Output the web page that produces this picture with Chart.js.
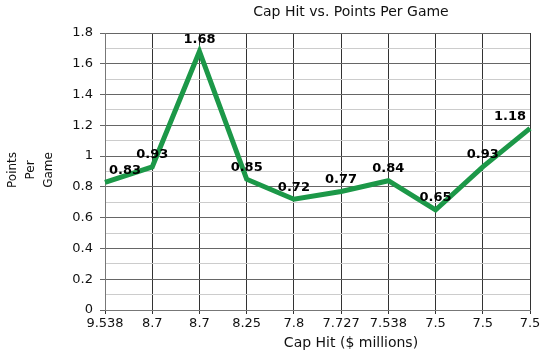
<!DOCTYPE html>
<html>
<head>
<meta charset="utf-8">
<title>Cap Hit vs. Points Per Game</title>
<script src="https://cdn.jsdelivr.net/npm/chart.js@4/dist/chart.umd.min.js"></script>
<style>
  html, body { margin: 0; padding: 0; background: #fff; }
  #wrap { width: 550px; height: 350px; }
</style>
</head>
<body>
<div id="wrap"><canvas id="capChart" width="550" height="350"></canvas></div>
<script>
// data
var capHits       = ['9.538', '8.7', '8.7', '8.25', '7.8', '7.727', '7.538', '7.5', '7.5', '7.5'];
var pointsPerGame = [0.83, 0.93, 1.68, 0.85, 0.72, 0.77, 0.84, 0.65, 0.93, 1.18];
var yMin  = 0;
var yMax  = 1.8;
var yStep = 0.1;   // labelled every 0.2, light line in between

var chartTitle = 'Cap Hit vs. Points Per Game';
var xTitle     = 'Cap Hit ($ millions)';
var yTitle     = ['Points', 'Per', 'Game'];

function isMajor(v) {
  return Math.round(v * 10) % 2 === 0;
}

// value labels above the points + titles
var textPlugin = {
  id: 'texts',
  afterDatasetsDraw: function (chart) {
    var ctx  = chart.ctx;
    var area = chart.chartArea;
    var meta = chart.getDatasetMeta(0);
    ctx.save();
    ctx.font = 'bold 13px "DejaVu Sans"';
    ctx.fillStyle = '#000';
    ctx.textAlign = 'center';
    ctx.textBaseline = 'middle';
    meta.data.forEach(function (pt, i) {
      var label = pointsPerGame[i].toFixed(2);
      var w = ctx.measureText(label).width;
      var x = Math.min(Math.max(pt.x, area.left + w / 2 + 4), area.right - w / 2 - 4);
      ctx.fillText(label, x, pt.y - 12);
    });
    ctx.restore();
  },
  afterDraw: function (chart) {
    var ctx = chart.ctx;
    ctx.save();
    ctx.fillStyle = '#111';
    ctx.textAlign = 'center';
    ctx.textBaseline = 'middle';
    ctx.font = '14px "DejaVu Sans"';
    ctx.fillText(chartTitle, 351, 12);
    ctx.fillText(xTitle, 351, 343);

    // y title, three rotated lines
    ctx.font = '12px "DejaVu Sans"';
    ctx.translate(31, 170);
    ctx.rotate(-Math.PI / 2);
    yTitle.forEach(function (line, i) {
      ctx.fillText(line, 0, (i - 1) * 18);
    });
    ctx.restore();
  }
};

var ctx = document.getElementById('capChart').getContext('2d');
var capChart = new Chart(ctx, {
  type: 'line',
  data: {
    labels: capHits,
    datasets: [{
      label: 'Points Per Game',
      data: pointsPerGame,
      borderColor: '#1c9848',
      backgroundColor: '#1c9848',
      borderWidth: 5,
      borderJoinStyle: 'miter',
      pointRadius: 0,
      pointHoverRadius: 0,
      tension: 0,
      fill: false
    }]
  },
  options: {
    responsive: false,
    animation: false,
    devicePixelRatio: 1,
    layout: {
      padding: { top: 33, right: 20, left: 0, bottom: 0 }
    },
    plugins: {
      legend: { display: false },
      title: { display: false },
      tooltip: { enabled: false }
    },
    scales: {
      x: {
        offset: false,
        afterFit: function (scale) { scale.height = 40; },
        grid: {
          color: '#333',
          lineWidth: 1,
          tickLength: 4,
          tickColor: '#333'
        },
        border: { color: '#777', width: 1 },
        ticks: {
          autoSkip: false,
          maxRotation: 0,
          padding: 2,
          color: '#111',
          font: { family: 'DejaVu Sans', size: 13 }
        }
      },
      y: {
        min: yMin,
        max: yMax,
        afterFit: function (scale) { scale.width = 105; },
        grid: {
          color: function (c) { return isMajor(c.tick.value) ? '#666' : '#ccc'; },
          tickColor: function (c) { return isMajor(c.tick.value) ? '#666' : 'rgba(0,0,0,0)'; },
          lineWidth: 1,
          tickLength: 5
        },
        border: { color: '#777', width: 1 },
        ticks: {
          stepSize: yStep,
          autoSkip: false,
          padding: 7,
          color: '#111',
          font: { family: 'DejaVu Sans', size: 13 },
          callback: function (v) {
            return isMajor(v) ? String(Math.round(v * 10) / 10) : '';
          }
        }
      }
    }
  },
  plugins: [textPlugin]
});
</script>
</body>
</html>
